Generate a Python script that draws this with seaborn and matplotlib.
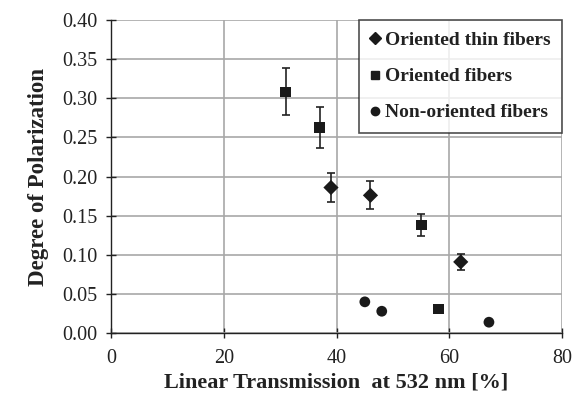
import matplotlib
matplotlib.use("Agg")
import matplotlib.pyplot as plt
import seaborn as sns
import pandas as pd
from matplotlib.lines import Line2D

# Data
thin_x = [39, 46, 62]
thin_y = [0.186, 0.176, 0.091]
thin_err = [0.018, 0.018, 0.010]

fib_x = [31, 37, 55, 58]
fib_y = [0.308, 0.263, 0.138, 0.031]
fib_err = [0.030, 0.026, 0.014, 0.0]

non_x = [45, 48, 67]
non_y = [0.040, 0.028, 0.014]

labels = ["Oriented thin fibers", "Oriented fibers", "Non-oriented fibers"]
x_ticks = [0, 20, 40, 60, 80]
y_ticks = [0.00, 0.05, 0.10, 0.15, 0.20, 0.25, 0.30, 0.35, 0.40]

df = pd.DataFrame({
    "x": thin_x + fib_x + non_x,
    "y": thin_y + fib_y + non_y,
    "err": thin_err + fib_err + [0.0] * len(non_x),
    "series": [labels[0]] * len(thin_x) + [labels[1]] * len(fib_x) + [labels[2]] * len(non_x),
})

sns.set_style("white")
plt.rcParams["font.family"] = ["Liberation Serif", "DejaVu Serif"]

fig, ax = plt.subplots(figsize=(5.72, 3.99), dpi=100)
fig.subplots_adjust(left=0.194, right=0.983, top=0.950, bottom=0.165)

# error bars
for lab in labels[:2]:
    sub = df[(df.series == lab) & (df.err > 0)]
    ax.errorbar(sub.x, sub.y, yerr=sub.err, fmt="none", ecolor="#222222",
                elinewidth=1.2, capsize=3, capthick=1.2, zorder=2)

markers = {labels[0]: "D", labels[1]: "s", labels[2]: "o"}
sns.scatterplot(data=df, x="x", y="y", style="series", markers=markers,
                color="#1a1a1a", s=60, edgecolor="none", ax=ax, zorder=3,
                legend=False)

ax.set_xlim(0, 80)
ax.set_ylim(0, 0.40)
ax.set_xticks(x_ticks)
ax.set_yticks(y_ticks)
ax.set_yticklabels([f"{v:.2f}" for v in y_ticks])
ax.grid(True, color="#a8a8a8", linewidth=1.2)
ax.set_axisbelow(True)
for s in ["top", "right"]:
    ax.spines[s].set_visible(False)
for s in ["left", "bottom"]:
    ax.spines[s].set_color("#222222")
    ax.spines[s].set_linewidth(1.0)
ax.tick_params(direction="inout", length=7, width=1, color="#222222",
               labelsize=14.5, labelcolor="#222222", left=True, bottom=True, pad=6)
ax.tick_params(axis="x", pad=8)

ax.set_xlabel("Linear Transmission  at 532 nm [%]", fontsize=16, fontweight="bold",
              color="#222222", labelpad=3)
ax.set_ylabel("Degree of Polarization", fontsize=16.5, fontweight="bold",
              color="#222222", labelpad=10)

handles = [Line2D([], [], marker=markers[l], color="#1a1a1a", linestyle="none",
                  markersize=6) for l in labels]
leg = ax.legend(handles, labels, loc="upper right", bbox_to_anchor=(1.0, 1.0),
                frameon=True, fancybox=False, edgecolor="#222222",
                prop={"family": ["Liberation Serif"], "weight": "bold", "size": 14},
                handlelength=0.5, handletextpad=0.25, labelspacing=0.95,
                borderpad=0.6, borderaxespad=0.0)
leg.get_frame().set_linewidth(1.2)
for t in leg.get_texts():
    t.set_color("#222222")

fig.savefig("out.png", dpi=100)
